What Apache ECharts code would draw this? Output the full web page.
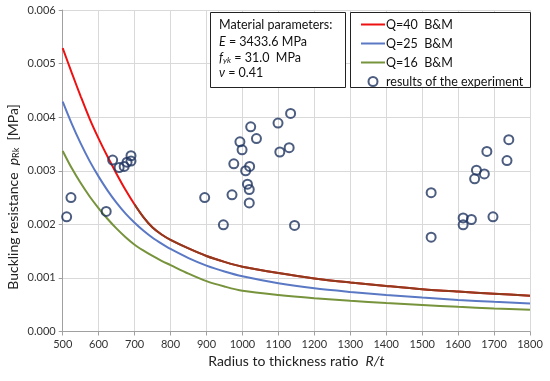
<!DOCTYPE html>
<html>
<head>
<meta charset="utf-8">
<script src="https://cdn.jsdelivr.net/npm/echarts@6/dist/echarts.min.js"></script>
<style>html,body{margin:0;padding:0;background:#fff}#c{width:550px;height:381px}</style>
</head>
<body>
<div id="c"></div>
<script>
// R/t sample positions for the B&M curves
const curveX = [500,525,550,575,600,625,650,675,700,725,750,775,800,850,900,950,1000,1100,1200,1300,1400,1500,1600,1700,1800];
// Q=40 B&M (MPa)
const q40 = [0.00529,0.00483,0.00439,0.00397,0.00360,0.00326,0.00294,0.00264,0.00237,0.00213,0.00194,0.00181,0.00171,0.00155,0.00141,0.00130,0.00121,0.00109,0.00099,0.000915,0.00085,0.00079,0.000745,0.000705,0.000668];
// Q=25 B&M (MPa)
const q25 = [0.00429,0.00388,0.00351,0.00318,0.00289,0.00263,0.00240,0.00220,0.00203,0.00188,0.00175,0.00164,0.00154,0.00137,0.00123,0.00112,0.00103,0.00090,0.000806,0.000739,0.000682,0.000633,0.00059,0.000553,0.000523];
// Q=16 B&M (MPa)
const q16 = [0.00337,0.00305,0.00277,0.00252,0.00230,0.00210,0.00192,0.00176,0.00162,0.00151,0.00141,0.00132,0.00124,0.00108,0.00094,0.00084,0.00076,0.00068,0.00062,0.000572,0.00053,0.000495,0.00046,0.00043,0.000405];
// results of the experiment: R/t and p (MPa)
const expRt = [511,523,621,639,657,671,679,690,690,
  895,947,971,976,993,999,1009,1014,1019,1019,1020,1023,1039,1099,1104,1130,1134,1145,
  1525,1525,1614,1614,1637,1646,1651,1673,1680,1697,1736,1741];
const expP = [0.00214,0.00250,0.00224,0.00320,0.00306,0.00308,0.00316,0.00328,0.00318,
  0.00250,0.00199,0.00255,0.00313,0.00354,0.00339,0.00300,0.00275,0.00265,0.00240,0.00308,0.00382,0.00360,0.00389,0.00335,0.00343,0.00407,0.00198,
  0.00259,0.00176,0.00212,0.00199,0.00209,0.00285,0.00301,0.00294,0.00336,0.00214,0.00319,0.00358];
const xTicks = {min:500, max:1800, step:100};
const yTicks = {min:0, max:0.006, step:0.001};

const pair = (xs, ys) => xs.map((x,i)=>[x, ys[i]]);
const brownPart = pair(curveX, q40).filter(d => d[0] >= 700);

const F = 'Lato, "Open Sans", sans-serif';
const lineIcon = 'path://M0,0H24V2H0Z';
const chart = echarts.init(document.getElementById('c'));
chart.setOption({
  animation:false,
  backgroundColor:'#fff',
  grid:{left:62.7, right:20, top:10, bottom:49.5},
  xAxis:{type:'value', min:xTicks.min, max:xTicks.max, interval:xTicks.step,
    name:'{n|Radius to thickness ratio  }{i|R/t}', nameLocation:'middle', nameGap:22,
    nameTextStyle:{rich:{n:{fontFamily:F,fontSize:14,color:'#222'}, i:{fontFamily:F,fontSize:14,fontStyle:'italic',color:'#222'}}},
    axisLine:{lineStyle:{color:'#a0a0a0'}}, axisTick:{show:true,length:4,lineStyle:{color:'#a0a0a0'}},
    axisLabel:{fontFamily:F,fontSize:11,color:'#333',margin:7,formatter:v=>String(v)},
    splitLine:{show:true,lineStyle:{color:'#d9d9d9',width:1}}},
  yAxis:{type:'value', min:yTicks.min, max:yTicks.max, interval:yTicks.step,
    axisLine:{show:true,lineStyle:{color:'#a0a0a0'}}, axisTick:{show:true,length:4,lineStyle:{color:'#a0a0a0'}},
    axisLabel:{fontFamily:F,fontSize:11,color:'#333',margin:7,formatter:v=>v.toFixed(3)},
    splitLine:{show:true,lineStyle:{color:'#d9d9d9',width:1}}},
  legend:{orient:'vertical', left:356, top:13, itemWidth:24, itemHeight:9, itemGap:6, z:10,
    textStyle:{fontFamily:F,fontSize:12.5,color:'#111',padding:[0,0,0,-4]},
    data:[{name:'Q=40  B&M',icon:lineIcon},{name:'Q=25  B&M',icon:lineIcon},{name:'Q=16  B&M',icon:lineIcon},
      {name:'results of the experiment',icon:'circle'}]},
  graphic:[
    {type:'rect', z:5, shape:{x:210.5,y:12.5,width:135,height:75}, style:{fill:'#fff',stroke:'#222',lineWidth:1}},
    {type:'rect', z:5, shape:{x:350.5,y:12.5,width:180,height:75}, style:{fill:'#fff',stroke:'#222',lineWidth:1}},
    {type:'text', z:6, x:219, y:25, style:{text:'Material parameters:', font:'12.5px '+F, fill:'#111', verticalAlign:'middle'}},
    {type:'text', z:6, x:219, y:41.5, style:{text:'{i|E} = 3433.6 MPa', verticalAlign:'middle',
      rich:{i:{font:'italic 12.5px '+F,fill:'#111'}}, font:'12.5px '+F, fill:'#111'}},
    {type:'text', z:6, x:219, y:57.5, style:{text:'{i|f}{s|yk} = 31.0  MPa', verticalAlign:'middle',
      rich:{i:{font:'italic 12.5px '+F,fill:'#111'}, s:{font:'italic 8.5px '+F,fill:'#111',padding:[6,0,0,0]}}, font:'12.5px '+F, fill:'#111'}},
    {type:'text', z:6, x:219, y:73, style:{text:'{i|ν} = 0.41', verticalAlign:'middle',
      rich:{i:{font:'italic 12.5px '+F,fill:'#111'}}, font:'12.5px '+F, fill:'#111'}},
    {type:'text', z:6, x:13, y:197, rotation:Math.PI/2,
      style:{text:'Buckling resistance  {i|p}{s|Rk}  [MPa]', align:'center', verticalAlign:'middle',
        font:'14px '+F, fill:'#222',
        rich:{i:{font:'italic 14px '+F,fill:'#222'}, s:{font:'9px '+F,fill:'#222',padding:[7,0,0,0]}}}}
  ],
  series:[
    {name:'Q=40  B&M', type:'line', data:pair(curveX,q40), symbol:'none', smooth:0.3,
      lineStyle:{color:'#ee1111',width:2}, itemStyle:{color:'#ee1111'}, z:3},
    {name:'Q=25  B&M', type:'line', data:pair(curveX,q25), symbol:'none', smooth:0.3,
      lineStyle:{color:'#5a78c4',width:2}, itemStyle:{color:'#5a78c4'}, z:3},
    {name:'Q=16  B&M', type:'line', data:pair(curveX,q16), symbol:'none', smooth:0.3,
      lineStyle:{color:'#77933c',width:2}, itemStyle:{color:'#77933c'}, z:3},
    {name:'brown', type:'line', data:brownPart, symbol:'none', smooth:0.3,
      lineStyle:{color:'#8e3b1e',width:2}, z:4},
    {name:'results of the experiment', type:'scatter', data:pair(expRt,expP), symbol:'circle', symbolSize:9,
      itemStyle:{color:'rgba(255,255,255,0)', borderColor:'#1f3560', borderWidth:2}, z:5}
  ]
});
</script>
</body>
</html>
